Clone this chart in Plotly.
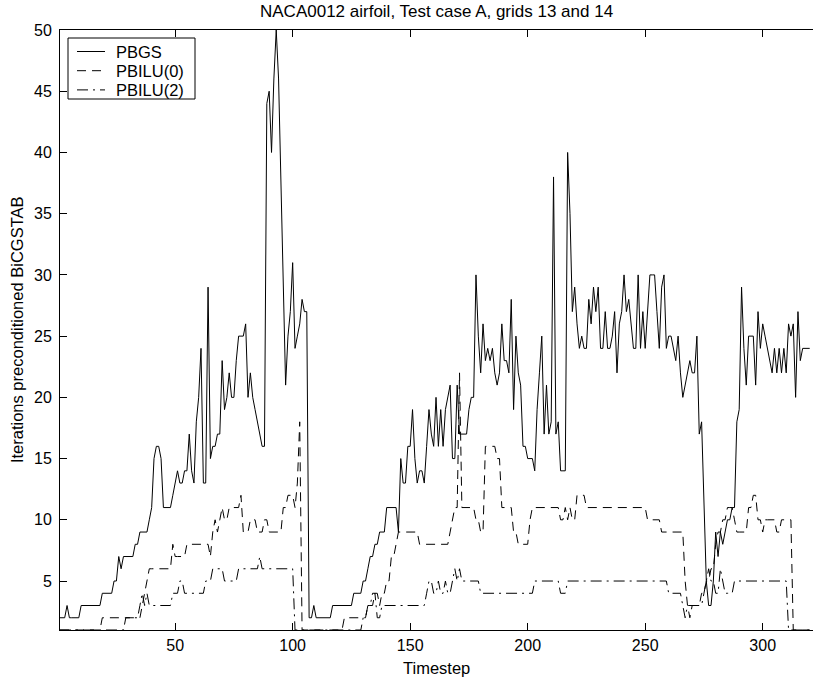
import plotly.graph_objects as go

# ---- data ----
pbgs = [
    2, 2, 2, 3, 2, 2, 2, 2, 2, 3,          # 1-10
    3, 3, 3, 3, 3, 3, 3, 3, 4, 4,          # 11-20
    4, 4, 4, 5, 5, 7, 6, 7, 7, 7,          # 21-30
    7, 7, 8, 8, 9, 9, 9, 9, 10, 11,        # 31-40
    15, 16, 16, 15, 11, 11, 11, 11, 12, 13,  # 41-50
    14, 13, 13, 14, 14, 17, 14, 13, 18, 20,  # 51-60
    24, 13, 13, 29, 15, 16, 16, 17, 17, 23,  # 61-70
    19, 20, 22, 20, 20, 23, 25, 25, 25, 26,  # 71-80
    20, 22, 20, 19, 18, 17, 16, 16, 44, 45,  # 81-90
    40, 46, 50, 46, 37, 29, 21, 25, 27, 31,  # 91-100
    24, 25, 26, 28, 27, 27, 2, 2, 3, 2,      # 101-110
    2, 2, 2, 2, 2, 2, 3, 3, 3, 3,            # 111-120
    3, 3, 3, 3, 3, 4, 4, 4, 4, 5,            # 121-130
    5, 6, 7, 7, 8, 8, 9, 9, 9, 11,           # 131-140
    11, 11, 11, 11, 9, 15, 13, 13, 16, 16,   # 141-150
    19, 15, 13, 14, 14, 13, 16, 19, 17, 16,  # 151-160
    20, 16, 19, 16, 19, 20, 21, 15, 15, 21,  # 161-170
    17, 17, 17, 17, 19, 20, 20, 30, 25, 22,  # 171-180
    26, 23, 24, 23, 24, 22, 21, 22, 26, 23,  # 181-190
    23, 22, 28, 19, 25, 22, 21, 16, 16, 15,  # 191-200
    15, 15, 14, 19, 22, 25, 17, 21, 17, 18,  # 201-210
    38, 17, 18, 14, 14, 14, 40, 35, 27, 29,  # 211-220
    26, 24, 25, 24, 24, 28, 26, 29, 27, 29,  # 221-230
    24, 24, 27, 24, 24, 25, 27, 22, 26, 27,  # 231-240
    30, 27, 28, 26, 24, 24, 30, 24, 27, 24,  # 241-250
    27, 30, 30, 30, 27, 24, 29, 30, 24, 25,  # 251-260
    25, 24, 23, 25, 22, 20, 21, 22, 23, 22,  # 261-270
    22, 25, 17, 18, 11, 5, 3, 3, 5, 9,       # 271-280
    7, 9, 8, 9, 10, 10, 11, 11, 18, 19,      # 281-290
    29, 24, 21, 25, 25, 25, 21, 27, 24, 26,  # 291-300
    25, 24, 23, 22, 24, 22, 24, 22, 24, 22,  # 301-310
    26, 25, 26, 20, 27, 23, 24, 24, 24, 24,  # 311-320
]

pbilu0 = [
    1, 1, 1, 1, 1, 1, 1, 1, 1, 1,          # 1-10
    1, 1, 1, 1, 1, 1, 1, 1, 2, 2,          # 11-20
    2, 2, 2, 2, 2, 2, 2, 2, 2, 2,          # 21-30
    2, 2, 2, 2, 2, 3, 4, 5, 6, 6,          # 31-40
    6, 6, 6, 6, 6, 6, 6, 6, 8, 7,          # 41-50
    7, 7, 7, 7, 8, 8, 8, 8, 8, 8,          # 51-60
    8, 8, 8, 8, 7, 9, 10, 9, 10, 11,       # 61-70
    10, 10, 11, 11, 11, 11, 11, 12, 9, 9,  # 71-80
    9, 10, 10, 10, 9, 9, 9, 10, 10, 9,     # 81-90
    9, 9, 9, 9, 9, 11, 11, 12, 12, 12,     # 91-100
    11, 13, 18, 1, 1, 1, 1, 1, 1, 1,       # 101-110
    1, 1, 1, 1, 1, 1, 1, 1, 1, 1,          # 111-120
    1, 2, 2, 2, 2, 2, 2, 2, 2, 2,          # 121-130
    2, 3, 3, 3, 4, 4, 3, 4, 4, 5,          # 131-140
    5, 7, 7, 8, 9, 9, 9, 9, 9, 9,          # 141-150
    9, 9, 9, 8, 8, 8, 8, 8, 8, 8,          # 151-160
    8, 8, 8, 8, 8, 8, 9, 10, 11, 11,       # 161-170
    22, 11, 11, 11, 11, 11, 11, 10, 10, 9,  # 171-180
    9, 16, 16, 16, 16, 16, 15, 15, 11, 11,  # 181-190
    11, 11, 11, 9, 9, 8, 8, 8, 8, 8,        # 191-200
    10, 11, 11, 11, 11, 11, 11, 11, 11, 11,  # 201-210
    11, 11, 11, 10, 10, 11, 10, 11, 10, 10,  # 211-220
    12, 12, 12, 12, 11, 11, 11, 11, 11, 11,  # 221-230
    11, 11, 11, 11, 11, 11, 11, 11, 11, 11,  # 231-240
    11, 11, 11, 11, 11, 11, 11, 11, 11, 11,  # 241-250
    10, 10, 10, 10, 10, 10, 9, 9, 9, 9,      # 251-260
    9, 9, 9, 9, 9, 9, 5, 3, 2, 3,            # 261-270
    3, 3, 3, 4, 4, 5, 5, 6, 6, 8,            # 271-280
    9, 9, 10, 10, 11, 11, 11, 10, 9, 9,      # 281-290
    9, 9, 9, 11, 11, 12, 12, 10, 10, 9,      # 291-300
    10, 10, 10, 10, 10, 9, 9, 10, 10, 10,    # 301-310
    10, 10, 1, 1, 1, 1, 1, 1, 1, 1,          # 311-320
]

pbilu2 = [
    1, 1, 1, 1, 1, 1, 1, 1, 1, 1,          # 1-10
    1, 1, 1, 1, 1, 1, 1, 1, 1, 1,          # 11-20
    1, 1, 1, 1, 1, 1, 1, 1, 2, 2,          # 21-30
    2, 2, 2, 2, 3, 4, 3, 4, 3, 3,          # 31-40
    3, 3, 3, 3, 3, 3, 3, 3, 4, 4,          # 41-50
    4, 5, 5, 4, 4, 4, 4, 4, 4, 4,          # 51-60
    4, 4, 5, 5, 5, 6, 6, 6, 6, 6,          # 61-70
    5, 5, 5, 5, 5, 5, 6, 6, 6, 6,          # 71-80
    6, 6, 6, 6, 6, 7, 6, 6, 6, 6,          # 81-90
    6, 6, 6, 6, 6, 6, 6, 6, 6, 6,          # 91-100
    1, 1, 1, 1, 1, 1, 1, 1, 1, 1,          # 101-110
    1, 1, 1, 1, 1, 1, 1, 1, 1, 1,          # 111-120
    1, 1, 1, 1, 1, 1, 1, 1, 1, 2,          # 121-130
    2, 3, 3, 4, 4, 2, 2, 3, 3, 3,          # 131-140
    3, 3, 3, 3, 3, 3, 3, 3, 3, 3,          # 141-150
    3, 3, 3, 3, 3, 3, 4, 5, 5, 4,          # 151-160
    4, 5, 4, 4, 5, 4, 4, 5, 6, 5,          # 161-170
    6, 5, 5, 5, 5, 5, 5, 5, 5, 4,          # 171-180
    4, 4, 4, 4, 4, 4, 4, 4, 4, 4,          # 181-190
    4, 4, 4, 4, 4, 4, 4, 4, 4, 4,          # 191-200
    4, 4, 5, 5, 5, 5, 5, 5, 5, 5,          # 201-210
    5, 5, 5, 4, 4, 4, 5, 5, 5, 5,          # 211-220
    5, 5, 5, 5, 5, 5, 5, 5, 5, 5,          # 221-230
    5, 5, 5, 5, 5, 5, 5, 5, 5, 5,          # 231-240
    5, 5, 5, 5, 5, 5, 5, 5, 5, 5,          # 241-250
    5, 5, 5, 5, 5, 5, 5, 5, 5, 4,          # 251-260
    4, 4, 4, 4, 4, 3, 2, 3, 3, 3,          # 261-270
    3, 3, 3, 3, 4, 5, 6, 5, 5, 4,          # 271-280
    4, 6, 5, 4, 4, 4, 4, 5, 5, 5,          # 281-290
    5, 5, 5, 5, 5, 5, 5, 5, 5, 5,          # 291-300
    5, 5, 5, 5, 5, 5, 5, 5, 5, 5,          # 301-310
    1, 1, 1, 1, 1, 1, 1, 1, 1, 1,          # 311-320
]

timestep = list(range(1, len(pbgs) + 1))

series_names = ["PBGS", "PBILU(0)", "PBILU(2)"]
x_ticks = [50, 100, 150, 200, 250, 300]
y_ticks = [5, 10, 15, 20, 25, 30, 35, 40, 45, 50]

title_text = "NACA0012 airfoil, Test case A, grids 13 and 14"
x_label = "Timestep"
y_label = "Iterations preconditioned BiCGSTAB"

FONT = "Liberation Sans, Arial, Helvetica, sans-serif"
DASHES = ["solid", "9px,6px", "11px,5px,2px,5px"]
TICK_SIZE = 16
LABEL_SIZE = 16.5
TITLE_SIZE = 17

# figure / plot-area geometry in pixels
W, H = 813, 681
ML, MR, MT, MB = 60, 0, 30, 51
PW, PH = W - ML - MR, H - MT - MB


def px_to_paper(px, py):
    return (px - ML) / PW, (H - MB - py) / PH


fig = go.Figure()
for name, ys, dash in zip(series_names, [pbgs, pbilu0, pbilu2], DASHES):
    fig.add_trace(go.Scatter(x=timestep, y=ys, mode="lines", name=name,
                             showlegend=False,
                             line=dict(color="black", width=1, dash=dash)))

# ---- legend box (Matlab style) ----
shapes = []
annotations = []
bx0, by0 = px_to_paper(68, 38)
bx1, by1 = px_to_paper(195, 99)
shapes.append(dict(type="rect", xref="paper", yref="paper",
                   x0=bx0, x1=bx1, y0=by1, y1=by0,
                   fillcolor="white", line=dict(color="black", width=1)))
for i, (name, dash) in enumerate(zip(series_names, DASHES)):
    ly = 51.5 + i * 19.2
    sx0, sy = px_to_paper(77, ly)
    sx1, _ = px_to_paper(105, ly)
    shapes.append(dict(type="line", xref="paper", yref="paper",
                       x0=sx0, x1=sx1, y0=sy, y1=sy,
                       line=dict(color="black", width=1, dash=dash)))
    tx, _ = px_to_paper(114, ly)
    annotations.append(dict(text=name, x=tx, y=sy, xref="paper", yref="paper",
                            xanchor="left", yanchor="middle", showarrow=False,
                            font=dict(family=FONT, size=LABEL_SIZE, color="black")))

annotations += [
    dict(text=title_text, x=0.5, y=1.03, xref="paper", yref="paper",
         xanchor="center", yanchor="middle", showarrow=False,
         font=dict(family=FONT, size=TITLE_SIZE, color="black")),
    dict(text=x_label, x=0.5, y=-0.064, xref="paper", yref="paper",
         xanchor="center", yanchor="middle", showarrow=False,
         font=dict(family=FONT, size=LABEL_SIZE, color="black")),
    dict(text=y_label, x=-0.057, y=0.5, xref="paper", yref="paper",
         xanchor="center", yanchor="middle", showarrow=False, textangle=-90,
         font=dict(family=FONT, size=LABEL_SIZE, color="black")),
]

fig.update_layout(
    width=W, height=H,
    margin=dict(l=ML, r=MR, t=MT, b=MB),
    paper_bgcolor="white", plot_bgcolor="white",
    font=dict(family=FONT, size=TICK_SIZE, color="black"),
    showlegend=False,
    shapes=shapes,
    annotations=annotations,
)

fig.update_xaxes(range=[1, 321.4], tickvals=x_ticks, ticks="inside", ticklen=7,
                 tickcolor="black", showline=True, linecolor="black", linewidth=1,
                 mirror="ticks", showgrid=False, zeroline=False,
                 ticklabelstandoff=1,
                 tickfont=dict(family=FONT, size=TICK_SIZE, color="black"))
fig.update_yaxes(range=[1, 50], tickvals=y_ticks, ticks="inside", ticklen=7,
                 tickcolor="black", showline=True, linecolor="black", linewidth=1,
                 showgrid=False, zeroline=False, ticklabelstandoff=4,
                 tickfont=dict(family=FONT, size=TICK_SIZE, color="black"))

fig.write_html("out.html")
